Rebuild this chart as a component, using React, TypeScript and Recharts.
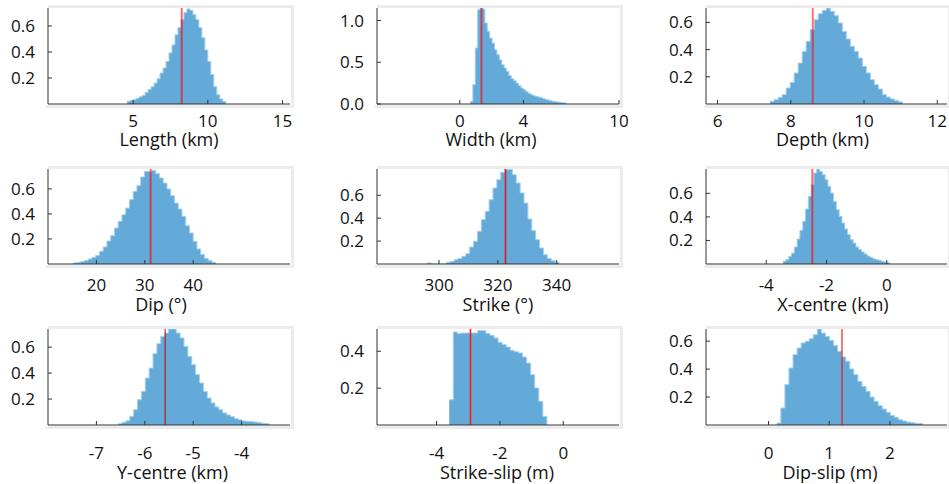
import React from 'react';
import { ComposedChart, Area, XAxis, YAxis, ReferenceLine } from 'recharts';

// ---------- data (posterior densities, binned) ----------
const lengthBinStart = 4.6;
const lengthBinWidth = 0.2;
const lengthDensity = [0.022, 0.028, 0.033, 0.044, 0.055, 0.066, 0.089, 0.111, 0.133, 0.161, 0.194, 0.238, 0.277, 0.327, 0.393, 0.454, 0.532, 0.587, 0.648, 0.703, 0.731, 0.72, 0.687, 0.648, 0.587, 0.51, 0.415, 0.327, 0.227, 0.133, 0.072, 0.039, 0.02];
const lengthBest = 8.25;
const lengthXTicks = [5, 10, 15];

const widthBinStart = 0.67;
const widthBinWidth = 0.151;
const widthDensity = [0.032, 0.232, 0.671, 1.13, 1.15, 1.138, 0.97, 0.87, 0.79, 0.73, 0.65, 0.59, 0.53, 0.471, 0.431, 0.391, 0.339, 0.303, 0.279, 0.251, 0.22, 0.192, 0.172, 0.148, 0.128, 0.112, 0.1, 0.092, 0.084, 0.076, 0.064, 0.056, 0.048, 0.04, 0.032, 0.028, 0.024, 0.02, 0.016, 0.012];
const widthBest = 1.36;
const widthXTicks = [0, 4, 10];

const depthBinStart = 7.436;
const depthBinWidth = 0.1095;
const depthDensity = [0.02, 0.032, 0.049, 0.069, 0.118, 0.159, 0.228, 0.301, 0.387, 0.461, 0.547, 0.62, 0.664, 0.689, 0.706, 0.681, 0.65, 0.596, 0.534, 0.478, 0.424, 0.387, 0.338, 0.277, 0.228, 0.179, 0.142, 0.11, 0.069, 0.051, 0.037, 0.025, 0.015];
const depthBest = 8.6;
const depthXTicks = [6, 8, 10, 12];

const dipBinStart = 15.2;
const dipBinWidth = 0.775;
const dipDensity = [0.008, 0.011, 0.019, 0.027, 0.04, 0.053, 0.069, 0.101, 0.136, 0.184, 0.226, 0.288, 0.341, 0.394, 0.447, 0.514, 0.58, 0.626, 0.695, 0.74, 0.737, 0.748, 0.722, 0.687, 0.647, 0.599, 0.546, 0.487, 0.439, 0.381, 0.306, 0.248, 0.181, 0.12, 0.075, 0.045, 0.027, 0.013];
const dipBest = 31.2;
const dipXTicks = [20, 30, 40];

const strikeBinStart = 295.9;
const strikeBinWidth = 1.32;
const strikeDensity = [0.009, 0, 0, 0, 0, 0.015, 0.023, 0.038, 0.049, 0.067, 0.09, 0.148, 0.198, 0.285, 0.387, 0.46, 0.561, 0.663, 0.736, 0.8, 0.823, 0.826, 0.78, 0.707, 0.62, 0.532, 0.393, 0.291, 0.212, 0.14, 0.081, 0.049, 0.029, 0.015];
const strikeBest = 322.6;
const strikeXTicks = [300, 320, 340];

const xCentreBinStart = -3.44;
const xCentreBinWidth = 0.093;
const xCentreDensity = [0.023, 0.037, 0.065, 0.093, 0.144, 0.212, 0.286, 0.363, 0.467, 0.575, 0.674, 0.773, 0.807, 0.787, 0.759, 0.717, 0.66, 0.603, 0.532, 0.462, 0.405, 0.348, 0.297, 0.249, 0.207, 0.178, 0.144, 0.122, 0.102, 0.085, 0.068, 0.057, 0.045, 0.037, 0.031, 0.023, 0.017, 0.011];
const xCentreBest = -2.47;
const xCentreXTicks = [-4, -2, 0];

const yCentreBinStart = -6.55;
const yCentreBinWidth = 0.08;
const yCentreDensity = [0.01, 0.021, 0.033, 0.067, 0.118, 0.195, 0.259, 0.362, 0.439, 0.55, 0.627, 0.683, 0.709, 0.74, 0.74, 0.709, 0.671, 0.606, 0.529, 0.465, 0.388, 0.324, 0.259, 0.208, 0.17, 0.139, 0.118, 0.093, 0.077, 0.064, 0.049, 0.041, 0.031, 0.028, 0.026, 0.023, 0.018, 0.013, 0.01];
const yCentreBest = -5.58;
const yCentreXTicks = [-7, -6, -5, -4];

const strikeSlipBinStart = -3.6;
const strikeSlipBinWidth = 0.1285;
const strikeSlipDensity = [0.137, 0.505, 0.496, 0.499, 0.499, 0.499, 0.499, 0.512, 0.512, 0.496, 0.487, 0.472, 0.449, 0.436, 0.423, 0.405, 0.398, 0.391, 0.369, 0.336, 0.273, 0.201, 0.128, 0.047];
const strikeSlipBest = -2.93;
const strikeSlipXTicks = [-4, -2, 0];

const dipSlipBinStart = 0.136;
const dipSlipBinWidth = 0.0668;
const dipSlipDensity = [0.014, 0.122, 0.289, 0.408, 0.503, 0.551, 0.587, 0.599, 0.618, 0.646, 0.687, 0.658, 0.634, 0.606, 0.568, 0.527, 0.487, 0.456, 0.401, 0.36, 0.312, 0.277, 0.241, 0.2, 0.169, 0.138, 0.114, 0.091, 0.069, 0.055, 0.038, 0.029, 0.021, 0.017, 0.012, 0.01];
const dipSlipBest = 1.21;
const dipSlipXTicks = [0, 1, 2];

const densityTicks = [0.2, 0.4, 0.6];
const widthDensityTicks = [0, 0.5, 1.0];
const strikeSlipDensityTicks = [0.2, 0.4];

// ---------- helpers ----------
function histogram(start: number, width: number, density: number[]) {
  const rows = density.map((d, i) => ({ x: start + i * width, y: d }));
  rows.push({ x: start + density.length * width, y: 0 });
  return rows;
}

const FONT = "'Open Sans', 'Noto Sans', sans-serif";
const BAR = '#64aad8';
const BAR_EDGE = '#a3cfeb';
const YW = 48;
const TOPM = 4;
const XH = 42;

type P = {
  title: string;
  left: number; top: number; w: number; h: number;
  titleX: number; titleBase: number; tickMargin: number;
  data: { x: number; y: number }[];
  xDomain: [number, number]; xTicks: number[];
  yDomain: [number, number]; yTicks: number[];
  fmt?: (v: number) => string;
  best: number; lineColor: string; lineOpacity: number; lineWidth: number;
};

const colL = [48, 377, 706];
const colW = [242, 242, 241];
const rowT = [8, 169, 329];
const rowH = [96, 95, 96];
const rowTickMargin = [15, 19, 26];
const rowTitleBase = [146.3, 310.6, 478.5];

function mk(r: number, c: number, rest: Omit<P, 'left' | 'top' | 'w' | 'h' | 'tickMargin' | 'titleBase'>): P {
  return { ...rest, left: colL[c], top: rowT[r], w: colW[c], h: rowH[r], tickMargin: rowTickMargin[r], titleBase: rowTitleBase[r] };
}

const panels: P[] = [
  mk(0, 0, { title: 'Length (km)', titleX: 169, data: histogram(lengthBinStart, lengthBinWidth, lengthDensity), xDomain: [-0.7, 15.5], xTicks: lengthXTicks, yDomain: [0, 0.738], yTicks: densityTicks, best: lengthBest, lineColor: '#ff0000', lineOpacity: 0.6, lineWidth: 2 }),
  mk(0, 1, { title: 'Width (km)', titleX: 491, data: histogram(widthBinStart, widthBinWidth, widthDensity), xDomain: [-5.2, 10], xTicks: widthXTicks, yDomain: [0, 1.15], yTicks: widthDensityTicks, fmt: (v) => v.toFixed(1), best: widthBest, lineColor: '#ff0000', lineOpacity: 0.6, lineWidth: 2 }),
  mk(0, 2, { title: 'Depth (km)', titleX: 822.5, data: histogram(depthBinStart, depthBinWidth, depthDensity), xDomain: [5.686, 12.265], xTicks: depthXTicks, yDomain: [0, 0.706], yTicks: densityTicks, best: depthBest, lineColor: '#ff0000', lineOpacity: 0.55, lineWidth: 2 }),
  mk(1, 0, { title: 'Dip (°)', titleX: 161, data: histogram(dipBinStart, dipBinWidth, dipDensity), xDomain: [10, 60], xTicks: dipXTicks, yDomain: [0, 0.759], yTicks: densityTicks, best: dipBest, lineColor: '#ff0000', lineOpacity: 0.6, lineWidth: 2 }),
  mk(1, 1, { title: 'Strike (°)', titleX: 498, data: histogram(strikeBinStart, strikeBinWidth, strikeDensity), xDomain: [278.9, 361.2], xTicks: strikeXTicks, yDomain: [0, 0.829], yTicks: densityTicks, best: strikeBest, lineColor: '#e8151b', lineOpacity: 1, lineWidth: 1.6 }),
  mk(1, 2, { title: 'X-centre (km)', titleX: 833, data: histogram(xCentreBinStart, xCentreBinWidth, xCentreDensity), xDomain: [-6, 2], xTicks: xCentreXTicks, yDomain: [0, 0.807], yTicks: densityTicks, best: xCentreBest, lineColor: '#ff0000', lineOpacity: 0.6, lineWidth: 2 }),
  mk(2, 0, { title: 'Y-centre (km)', titleX: 172.5, data: histogram(yCentreBinStart, yCentreBinWidth, yCentreDensity), xDomain: [-8, -3], xTicks: yCentreXTicks, yDomain: [0, 0.74], yTicks: densityTicks, best: yCentreBest, lineColor: '#c40000', lineOpacity: 1, lineWidth: 1 }),
  mk(2, 1, { title: 'Strike-slip (m)', titleX: 497, data: histogram(strikeSlipBinStart, strikeSlipBinWidth, strikeSlipDensity), xDomain: [-5.88, 1.76], xTicks: strikeSlipXTicks, yDomain: [0, 0.521], yTicks: strikeSlipDensityTicks, best: strikeSlipBest, lineColor: '#ff1a1a', lineOpacity: 1, lineWidth: 1.6 }),
  mk(2, 2, { title: 'Dip-slip (m)', titleX: 830, data: histogram(dipSlipBinStart, dipSlipBinWidth, dipSlipDensity), xDomain: [-1.03, 2.94], xTicks: dipSlipXTicks, yDomain: [0, 0.687], yTicks: densityTicks, best: dipSlipBest, lineColor: '#ff0000', lineOpacity: 0.55, lineWidth: 2 }),
];

const tickStyle = { fill: '#111', fontSize: 17, fontFamily: FONT };

function Panel({ p }: { p: P }) {
  const chartW = YW + p.w + 2;
  const chartH = TOPM + p.h + XH;
  const band = '#ececec';
  return (
    <>
      <div style={{ position: 'absolute', left: p.left, top: p.top - 3, width: p.w + 3, height: 3, background: band }} />
      <div style={{ position: 'absolute', left: p.left - 2, top: p.top + p.h + 1, width: p.w + 5, height: 3, background: band }} />
      <div style={{ position: 'absolute', left: p.left + p.w + 1, top: p.top - 3, width: 3, height: p.h + 7, background: band }} />
      <div style={{ position: 'absolute', left: p.left - YW, top: p.top - TOPM }}>
        <ComposedChart width={chartW} height={chartH} data={p.data} margin={{ top: TOPM, right: 2, bottom: 0, left: 0 }}>
          <XAxis xAxisId="b" dataKey="x" type="number" orientation="bottom" domain={p.xDomain} ticks={p.xTicks} interval={0}
            allowDataOverflow height={XH} tickSize={-4} tickMargin={p.tickMargin} stroke="#333" tick={tickStyle} />
          <XAxis xAxisId="t" dataKey="x" type="number" orientation="top" domain={p.xDomain} ticks={p.xTicks} interval={0}
            allowDataOverflow height={0} tickSize={-4} tick={false} stroke="#333" />
          <YAxis yAxisId="l" type="number" orientation="left" domain={p.yDomain} ticks={p.yTicks} interval={0}
            allowDataOverflow width={YW} tickSize={-4} tickMargin={17} tickFormatter={p.fmt} stroke="#333" tick={tickStyle} />
          <YAxis yAxisId="r" type="number" orientation="right" domain={p.yDomain} ticks={p.yTicks} interval={0}
            allowDataOverflow width={0} tickSize={-4} tick={false} stroke="#333" />
          <Area xAxisId="b" yAxisId="l" type="stepAfter" dataKey="y" fill={BAR} fillOpacity={1} stroke={BAR_EDGE}
            strokeWidth={1} isAnimationActive={false} dot={false} activeDot={false} />
          <ReferenceLine xAxisId="b" yAxisId="l" x={p.best} stroke={p.lineColor} strokeOpacity={p.lineOpacity} strokeWidth={p.lineWidth} />
        </ComposedChart>
      </div>
      <div style={{ position: 'absolute', left: p.titleX - 110, top: p.titleBase - 13, width: 220, textAlign: 'center',
        fontFamily: FONT, fontSize: 18, lineHeight: '12px', color: '#111', whiteSpace: 'nowrap' }}>{p.title}</div>
    </>
  );
}

export default function App() {
  return (
    <div style={{ position: 'absolute', left: 0, top: 0, width: 949, height: 484, overflow: 'hidden', background: '#fff' }}>
      <style>{'.recharts-surface { overflow: visible; } .recharts-wrapper { overflow: visible; }'}</style>
      {panels.map((p) => <Panel key={p.title} p={p} />)}
    </div>
  );
}
